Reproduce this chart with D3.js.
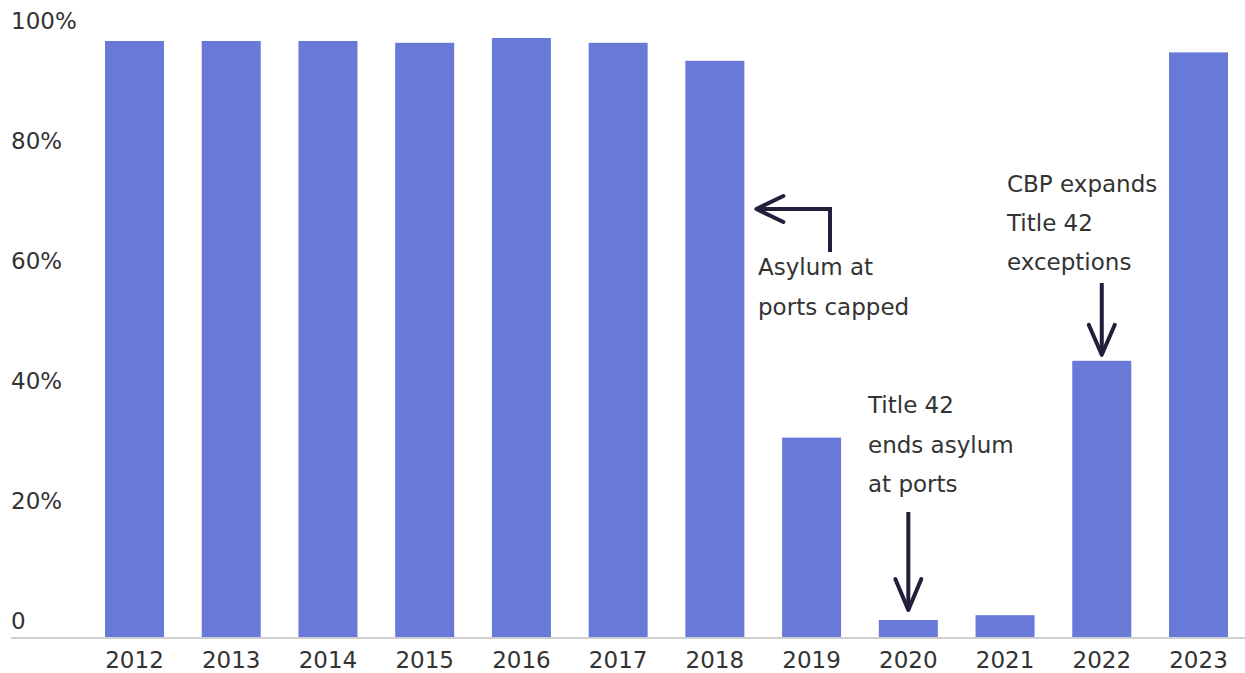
<!DOCTYPE html>
<html>
<head>
<meta charset="utf-8">
<script src="https://cdn.jsdelivr.net/npm/d3@7"></script>
<style>
  body { margin: 0; background: #fff; }
  text { font-family: "DejaVu Sans", sans-serif; fill: #333; }
</style>
</head>
<body>
<svg id="chart" width="1245" height="673"></svg>
<script>
// data
var years = ["2012","2013","2014","2015","2016","2017","2018","2019","2020","2021","2022","2023"];
var shares = [99.5, 99.5, 99.5, 99.2, 100, 99.2, 96.2, 33.4, 3.0, 3.8, 46.2, 97.6];
var yTicks = [0, 20, 40, 60, 80, 100];
var yTickLabels = ["0", "20%", "40%", "60%", "80%", "100%"];

var svg = d3.select("#chart");

var x = d3.scaleBand()
    .domain(years)
    .range([105, 1228])
    .paddingInner(0.39)
    .paddingOuter(0);

var y = d3.scaleLinear()
    .domain([0, 100])
    .range([638, 38]);

// bars
svg.selectAll(".bar")
    .data(shares)
  .enter().append("rect")
    .attr("class", "bar")
    .attr("x", function(d, i) { return x(years[i]); })
    .attr("y", function(d) { return y(d); })
    .attr("width", x.bandwidth())
    .attr("height", function(d) { return y(0) - y(d); })
    .attr("fill", "#6879d8");

// baseline
svg.append("line")
    .attr("x1", 11).attr("x2", 1245)
    .attr("y1", y(0)).attr("y2", y(0))
    .attr("stroke", "#cfcfcf")
    .attr("stroke-width", 2);

// y labels sit just above their value
svg.selectAll(".ylab")
    .data(yTicks)
  .enter().append("text")
    .attr("class", "ylab")
    .attr("x", 11)
    .attr("y", function(d) { return y(d) - 9; })
    .style("font-size", "23px")
    .text(function(d, i) { return yTickLabels[i]; });

// x labels
var xAxis = svg.append("g")
    .attr("transform", "translate(0," + y(0) + ")")
    .call(d3.axisBottom(x).tickSize(0).tickPadding(30));
xAxis.select(".domain").remove();
xAxis.selectAll("text")
    .style("font-size", "23px")
    .style("font-family", "DejaVu Sans, sans-serif")
    .attr("fill", "#333")
    .attr("dy", 0);

// annotations
var arrowColor = "#221f3b";

function addLines(x0, y0, lines, gap) {
    var t = svg.append("text").style("font-size", "23px");
    lines.forEach(function(s, i) {
        t.append("tspan").attr("x", x0).attr("y", y0 + i * gap).text(s);
    });
}

function arrow(pathD, head) {
    svg.append("path").attr("d", pathD)
        .attr("fill", "none").attr("stroke", arrowColor)
        .attr("stroke-width", 4).attr("stroke-linejoin", "miter");
    svg.append("path").attr("d", head)
        .attr("fill", "none").attr("stroke", arrowColor)
        .attr("stroke-width", 4).attr("stroke-linecap", "round").attr("stroke-linejoin", "round");
}

// 2018
var ax = x("2018") + x.bandwidth() + 12;
addLines(758, 275, ["Asylum at", "ports capped"], 40);
arrow("M830,252V209H" + ax,
      "M" + (ax + 27) + ",196L" + ax + ",209L" + (ax + 27) + ",222");

// 2020
var cx20 = x("2020") + x.bandwidth() / 2;
var tip20 = y(shares[8]) - 10;
addLines(868, 413, ["Title 42", "ends asylum", "at ports"], 39.5);
arrow("M" + cx20 + ",512V" + tip20,
      "M" + (cx20 - 13) + "," + (tip20 - 31) + "L" + cx20 + "," + tip20 + "L" + (cx20 + 13) + "," + (tip20 - 31));

// 2022
var cx22 = x("2022") + x.bandwidth() / 2;
var tip22 = y(shares[10]) - 6;
addLines(1007, 192, ["CBP expands", "Title 42", "exceptions"], 39);
arrow("M" + cx22 + ",283V" + tip22,
      "M" + (cx22 - 13) + "," + (tip22 - 30) + "L" + cx22 + "," + tip22 + "L" + (cx22 + 13) + "," + (tip22 - 30));
</script>
</body>
</html>
